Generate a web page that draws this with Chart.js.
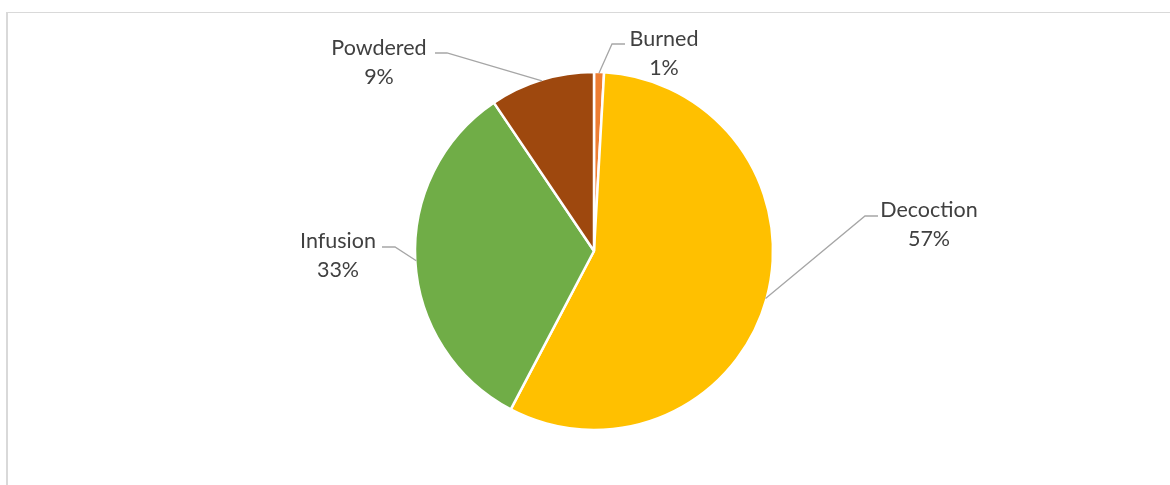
<!DOCTYPE html>
<html>
<head>
<meta charset="utf-8">
<script src="https://cdn.jsdelivr.net/npm/chart.js@4.4.1/dist/chart.umd.min.js"></script>
<style>
  html, body { margin: 0; padding: 0; background: #fff; overflow: hidden; }
  #wrap { position: relative; width: 1170px; height: 485px; }
  #frame {
    position: absolute; left: 6px; top: 12px; width: 1300px; height: 600px;
    border-top: 1px solid #d9d9d9; border-left: 2px solid #d9d9d9;
  }
  canvas { position: absolute; left: 0; top: 0; }
</style>
</head>
<body>
<div id="wrap">
  <div id="frame"></div>
  <canvas id="cht_pie" width="1170" height="485"></canvas>
</div>
<script>
"use strict";

var categories = ["Burned", "Decoction", "Infusion", "Powdered"];
var shares = [0.9, 56.8, 32.85, 9.45];
var sliceColors = ["#ED7D31", "#FFC000", "#70AD47", "#9E480E"];

// label placement (text center x, first baseline y) and leader elbow
var labelSpots = [
	{x: 664, y: 45.5, elbowX: 612, elbowY: 44, endX: 625},
	{x: 929, y: 216.5, elbowX: 865, elbowY: 216, endX: 878},
	{x: 338, y: 247.5, elbowX: 395, elbowY: 247, endX: 382},
	{x: 379, y: 54.5, elbowX: 447, elbowY: 53, endX: 435}
];

var labelFont = "21.5px Lato";
var lineGap = 29;

var pieLabels = {
	id: 'pieLabels',
	afterDatasetsDraw: function (chart) {
		var ctx = chart.ctx;
		var arcs = chart.getDatasetMeta(0).data;
		var total = shares.reduce(function (a, b) { return a + b; }, 0);
		ctx.save();
		for (var i = 0; i < arcs.length; i++) {
			var a = arcs[i];
			var mid = (a.startAngle + a.endAngle) / 2;
			var r = a.outerRadius - 1;
			var sx = a.x + Math.cos(mid) * r;
			var sy = a.y + Math.sin(mid) * r;
			var s = labelSpots[i];

			ctx.strokeStyle = "#a6a6a6";
			ctx.lineWidth = 1.3;
			ctx.beginPath();
			ctx.moveTo(sx, sy);
			ctx.lineTo(s.elbowX, s.elbowY);
			ctx.lineTo(s.endX, s.elbowY);
			ctx.stroke();

			ctx.fillStyle = "#404040";
			ctx.font = labelFont;
			ctx.textAlign = "center";
			ctx.textBaseline = "alphabetic";
			ctx.fillText(categories[i], s.x, s.y);
			ctx.fillText(Math.round(shares[i] / total * 100) + "%", s.x, s.y + lineGap);
		}
		ctx.restore();
	}
};

var pieChart = new Chart(document.getElementById("cht_pie").getContext('2d'), {
	type: 'pie',
	data: {
		labels: categories,
		datasets: [{
			data: shares,
			backgroundColor: sliceColors,
			borderColor: "#ffffff",
			borderWidth: 2.5,
			hoverOffset: 0
		}]
	},
	options: {
		responsive: false,
		animation: false,
		radius: 179,
		layout: {padding: {left: 18, right: 0, top: 17, bottom: 0}},
		plugins: {
			legend: {display: false},
			tooltip: {enabled: false}
		}
	},
	plugins: [pieLabels]
});
</script>
</body>
</html>
